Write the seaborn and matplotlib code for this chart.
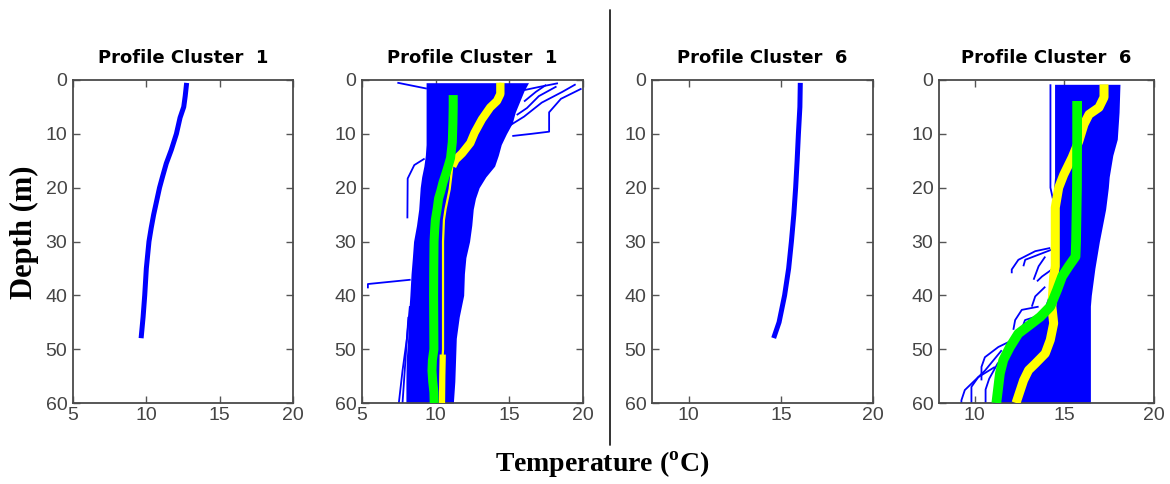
import numpy as np
import pandas as pd
import matplotlib
matplotlib.use("Agg")
import matplotlib.pyplot as plt
from matplotlib.lines import Line2D
import seaborn as sns

# ---------------- data (temperature in degC, depth in m) ----------------
# Cluster 1: mean profile
c1_depth = [1, 3, 5, 7, 10, 13, 15.5, 18, 20, 22.5, 25, 27.5, 30, 35, 40, 44, 47.5]
c1_temp = [12.73, 12.65, 12.55, 12.3, 12.05, 11.7, 11.36, 11.1, 10.9, 10.7, 10.5,
           10.33, 10.18, 10.0, 9.89, 9.78, 9.66]

# Cluster 1: envelope of member profiles
c1_env_depth = [0.5, 2, 4, 6, 8, 10, 12, 14, 16, 18, 20, 22, 24, 27, 30, 33, 36,
                40, 44, 48, 52, 56, 60]
c1_env_left = [9.35, 9.35, 9.35, 9.35, 9.35, 9.35, 9.35, 9.3, 9.2, 9.05, 8.95, 8.9,
               8.85, 8.7, 8.5, 8.42, 8.33, 8.25, 8.15, 8.1, 8.0, 7.98, 7.98]
c1_env_right = [16.3, 16.0, 15.7, 15.4, 15.2, 14.8, 14.45, 14.25, 14.0, 13.4, 12.95,
                12.7, 12.55, 12.45, 12.3, 12.05, 11.95, 11.9, 11.6, 11.4, 11.35, 11.3, 11.2]

# Cluster 1: outlying member profiles
c1_outliers = [
    ([7.4, 9.4], [0.5, 1.6]),
    ([9.25, 8.55, 8.1, 8.08], [14.6, 15.8, 18.3, 25.7]),
    ([8.3, 5.4, 5.4], [37.1, 37.9, 38.7]),
    ([8.25, 8.05, 7.75, 7.5], [42, 48, 54, 60]),
    ([8.15, 7.95, 7.75], [44, 52, 60]),
    ([15.2, 16.5, 17.7, 17.7, 18.5, 19.9], [10.4, 10.0, 9.6, 6.0, 3.5, 1.6]),
    ([15.5, 16.2, 17.0, 18.2], [6.5, 5.2, 3.0, 1.2]),
    ([15.0, 16.0, 17.2, 18.6, 19.5], [8.5, 6.8, 4.2, 2.2, 0.8]),
    ([16.0, 16.8, 17.5], [4.0, 2.2, 0.9]),
    ([15.8, 17.0, 18.3], [2.0, 1.3, 0.6]),
]

# Cluster 1: centroid (green) and reference (yellow) profiles
c1_green_depth = [2.8, 5, 8, 11.5, 14.5, 16, 17.6, 19, 20.7, 22, 23.8, 26, 28, 30,
                  35, 40, 45, 50, 52, 54, 56, 58, 60]
c1_green_temp = [11.19, 11.19, 11.17, 11.13, 11.01, 10.85, 10.67, 10.5, 10.34, 10.2,
                 10.11, 9.98, 9.93, 9.89, 9.87, 9.86, 9.87, 9.88, 9.78, 9.75, 9.8,
                 9.88, 9.9]
c1_yellow_depth = [0.5, 2.6, 3.9, 5.1, 7.3, 9.8, 11.7, 13.6, 14.8, 16.0, 18, 20.3,
                   24, 26, 30, 40, 50, 51, 55, 60]
c1_yellow_temp = [14.39, 14.39, 14.16, 13.7, 13.14, 12.64, 12.35, 11.8, 11.35, 11.13,
                  11.05, 10.95, 10.67, 10.56, 10.5, 10.5, 10.5, 10.48, 10.45, 10.43]

# Cluster 6: mean profile
c6_depth = [1, 5, 10, 15, 20, 25, 30, 35, 40, 45, 47.5]
c6_temp = [16.05, 16.03, 15.95, 15.88, 15.8, 15.7, 15.57, 15.42, 15.2, 14.9, 14.65]

# Cluster 6: envelope of member profiles
c6_env_depth = [0.8, 6, 11, 14, 18, 20, 24, 30, 35, 40, 42, 45, 48, 51, 54, 57, 60]
c6_env_left = [14.45, 14.45, 14.45, 14.45, 14.45, 14.4, 14.35, 14.35, 14.4, 14.1,
               13.9, 13.3, 12.3, 11.7, 11.3, 11.1, 11.0]
c6_env_right = [18.1, 18.05, 17.95, 17.7, 17.5, 17.45, 17.3, 16.95, 16.7, 16.5,
                16.45, 16.45, 16.45, 16.45, 16.45, 16.45, 16.45]

# Cluster 6: outlying member profiles
c6_outliers = [
    ([14.22, 14.22, 14.35], [0.8, 20, 22]),
    ([14.21, 13.37, 12.43, 12.06, 12.06], [31.2, 31.8, 33.4, 35.2, 35.9]),
    ([14.3, 12.81, 12.71], [31.5, 33.4, 34.6]),
    ([13.93, 13.56, 13.28], [32.8, 34.6, 37.1]),
    ([14.3, 13.75, 13.47], [35.2, 36.5, 37.4]),
    ([13.93, 13.37, 13.18], [38.4, 40.2, 42.1]),
    ([13.56, 12.62, 12.25, 12.15], [42.1, 42.7, 44.6, 46.4]),
    ([13.37, 12.8, 12.53], [44.0, 44.6, 47.1]),
    ([12.06, 11.31, 10.56, 10.37, 10.37], [48.4, 49.6, 51.5, 53.3, 55.8]),
    ([11.5, 10.56, 10.0, 9.44, 9.25, 9.25], [50.2, 54.0, 55.8, 57.6, 59.5, 60]),
    ([11.12, 10.19, 9.81, 9.81], [53.3, 55.2, 57.0, 60]),
    ([11.3, 10.8, 10.6, 10.6], [52.5, 55.5, 57.5, 60]),
    ([12.0, 11.6, 11.4, 11.3], [49.0, 51.0, 53.5, 56.0]),
]

# Cluster 6: centroid (green) and reference (yellow) profiles
c6_green_depth = [3.9, 10, 20, 30, 32.8, 34.6, 36.5, 39, 42.1, 44, 45.2, 47.1, 49.6,
                  52, 54.5, 57, 60]
c6_green_temp = [15.71, 15.71, 15.7, 15.65, 15.62, 15.24, 14.87, 14.59, 14.21, 13.65,
                 13.18, 12.43, 11.96, 11.59, 11.4, 11.31, 11.2]
c6_yellow_depth = [0.8, 3.2, 5.1, 6.4, 8.25, 11.4, 14.4, 17.6, 20, 23.7, 30, 34.6,
                   36.5, 42.1, 45.2, 48.3, 50.8, 52.7, 53.9, 55.8, 60]
c6_yellow_temp = [17.21, 17.21, 16.93, 16.37, 16.09, 15.8, 15.43, 14.96, 14.68, 14.49,
                  14.49, 14.49, 14.4, 14.3, 14.4, 14.21, 13.93, 13.37, 13.0, 12.72, 12.3]

titles = ["Profile Cluster  1", "Profile Cluster  1", "Profile Cluster  6", "Profile Cluster  6"]
xlims = [(5, 20), (5, 20), (8, 20), (8, 20)]
xticks = [[5, 10, 15, 20], [5, 10, 15, 20], [10, 15, 20], [10, 15, 20]]
yticks = [0, 10, 20, 30, 40, 50, 60]

BLUE = "#0000ff"
GREEN = "#00ff00"
YELLOW = "#ffff00"

# ---------------- styling ----------------
sns.set_style("white")
plt.rcParams["font.family"] = ["Liberation Sans", "DejaVu Sans"]
plt.rcParams["mathtext.fontset"] = "custom"
plt.rcParams["mathtext.rm"] = "Liberation Serif:bold"

W, H = 1170, 484
fig = plt.figure(figsize=(W / 100, H / 100), dpi=100)

# axes boxes in pixels: left, right, top, bottom
boxes = [(73, 293, 80, 403), (362, 583, 80, 403), (652, 873, 80, 403), (939, 1154, 80, 403)]
axes = []
for (l, r, t, b) in boxes:
    axes.append(fig.add_axes([l / W, 1 - b / H, (r - l) / W, (b - t) / H]))


def line(ax, x, y, color=BLUE, lw=1.2, z=2, cap="butt"):
    df = pd.DataFrame({"temp": x, "depth": y})
    sns.lineplot(data=df, x="temp", y="depth", sort=False, estimator=None,
                 color=color, lw=lw, ax=ax, zorder=z, solid_capstyle=cap,
                 solid_joinstyle="round")


# panel 1: cluster 1 mean
line(axes[0], c1_temp, c1_depth, lw=3.6, z=3, cap="projecting")

# panel 2: cluster 1 members, green and yellow profiles
ax = axes[1]
ax.fill_betweenx(c1_env_depth, c1_env_left, c1_env_right, color=BLUE, lw=0, zorder=2)
for xs, ys in c1_outliers:
    line(ax, xs, ys, lw=1.3, z=2)
line(ax, c1_yellow_temp, c1_yellow_depth, color=YELLOW, lw=1.6, z=3)
yd = np.array(c1_yellow_depth)
yt = np.array(c1_yellow_temp)
top = yd <= 16.5
bot = yd >= 51
line(ax, yt[top], yd[top], color=YELLOW, lw=6, z=3)
line(ax, yt[bot], yd[bot], color=YELLOW, lw=4.5, z=3)
line(ax, c1_green_temp, c1_green_depth, color=GREEN, lw=6.5, z=4)

# panel 3: cluster 6 mean
line(axes[2], c6_temp, c6_depth, lw=3.6, z=3, cap="projecting")

# panel 4: cluster 6 members, green and yellow profiles
ax = axes[3]
ax.fill_betweenx(c6_env_depth, c6_env_left, c6_env_right, color=BLUE, lw=0, zorder=2)
for xs, ys in c6_outliers:
    line(ax, xs, ys, lw=1.3, z=2)
line(ax, c6_yellow_temp, c6_yellow_depth, color=YELLOW, lw=6.5, z=3)
line(ax, c6_green_temp, c6_green_depth, color=GREEN, lw=7, z=4)

# axes decoration
for ax, title, xl, xt in zip(axes, titles, xlims, xticks):
    ax.set_xlim(*xl)
    ax.set_ylim(60, 0)
    ax.set_xticks(xt)
    ax.set_yticks(yticks)
    ax.set_xlabel("")
    ax.set_ylabel("")
    ax.tick_params(direction="in", length=5, width=1, color="#555555",
                   top=True, right=True, bottom=True, left=True,
                   labelsize=14, labelcolor="#444444", pad=3)
    ax.tick_params(axis="y", pad=4)
    for s in ax.spines.values():
        s.set_visible(True)
        s.set_color("#4a4a4a")
        s.set_linewidth(1.3)
    ax.set_title(title, fontsize=13, fontweight="bold", pad=12, color="black",
                 family=["DejaVu Sans"])

# shared labels
fig.text(24 / W, 1 - 232 / H, "Depth (m)", rotation=90, ha="center", va="center",
         fontsize=22, fontweight="bold", color="black",
         family=["Liberation Serif", "DejaVu Serif"])
fig.text(602 / W, 1 - 465 / H, r"Temperature ($^{\mathrm{o}}$C)", ha="center",
         va="center", fontsize=20, fontweight="bold", color="black",
         family=["Liberation Serif", "DejaVu Serif"])

# divider between the two cluster pairs
fig.add_artist(Line2D([610 / W, 610 / W], [1 - 10 / H, 1 - 445 / H],
                      transform=fig.transFigure, color="#222222", lw=1.3))

fig.savefig("out.png", dpi=100)
